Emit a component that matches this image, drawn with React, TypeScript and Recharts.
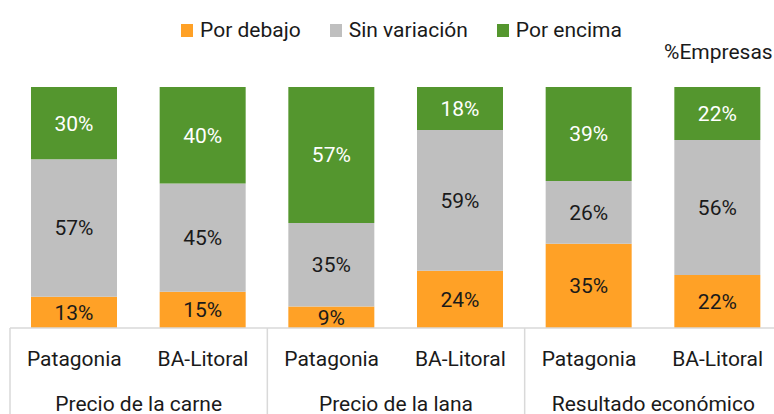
import { BarChart, Bar, XAxis, YAxis, Legend, LabelList } from "recharts";

const groups = ["Precio de la carne", "Precio de la lana", "Resultado económico"];
const regions = ["Patagonia", "BA-Litoral", "Patagonia", "BA-Litoral", "Patagonia", "BA-Litoral"];
const porDebajo = [13, 15, 9, 24, 35, 22];
const sinVariacion = [57, 45, 35, 59, 26, 56];
const porEncima = [30, 40, 57, 18, 39, 22];

const series = [
    { key: "debajo", name: "Por debajo", color: "#ffa126", text: "#1a1a1a" },
    { key: "sin", name: "Sin variación", color: "#bfbfbf", text: "#1a1a1a" },
    { key: "encima", name: "Por encima", color: "#54962e", text: "#ffffff" },
];

const data = regions.map((region, i) => ({
    name: groups[Math.floor(i / 2)] + " " + region,
    region,
    debajo: porDebajo[i],
    sin: sinVariacion[i],
    encima: porEncima[i],
}));

const CHART_W = 790;
const MARGIN_L = 10;
const MARGIN_R = 8;
const BAND = (CHART_W - MARGIN_L - MARGIN_R) / regions.length;
const FONT = "Roboto, 'Noto Sans', sans-serif";
const FS = 21;

function TwoLevelTick(props: any) {
    const { x, y, index } = props;
    return (
        <g>
            <text x={x} y={y + 30} textAnchor="middle" fill="#1a1a1a" fontSize={FS}>
                {regions[index]}
            </text>
            {index % 2 === 0 && (
                <g>
                    <line x1={x - BAND / 2} x2={x - BAND / 2} y1={y - 8} y2={y + 90} stroke="#d9d9d9" strokeWidth={1.5} />
                    <text x={x + BAND / 2} y={y + 75} textAnchor="middle" fill="#1a1a1a" fontSize={FS}>
                        {groups[index / 2]}
                    </text>
                </g>
            )}
            {index === regions.length - 1 && (
                <line x1={x + BAND / 2} x2={x + BAND / 2} y1={y - 8} y2={y + 90} stroke="#d9d9d9" strokeWidth={1.5} />
            )}
        </g>
    );
}

function LegendContent() {
    return (
        <div style={{ display: "flex", justifyContent: "center", fontSize: FS, lineHeight: "26px", color: "#1a1a1a" }}>
            {series.map((s) => (
                <div key={s.key} style={{ display: "flex", alignItems: "center", marginRight: 29 }}>
                    <span style={{ display: "inline-block", width: 12, height: 13, background: s.color, marginRight: 7 }} />
                    <span>{s.name}</span>
                </div>
            ))}
        </div>
    );
}

const pct = (v: any) => v + "%";

export default function App() {
    return (
        <div style={{ position: "absolute", left: 0, top: 0, width: 774, height: 414, overflow: "hidden", fontFamily: FONT }}>
            <BarChart
                width={CHART_W}
                height={414}
                data={data}
                stackOffset="expand"
                barSize={86}
                margin={{ top: 87, right: MARGIN_R, bottom: 0, left: MARGIN_L }}
            >
                <XAxis
                    dataKey="name"
                    height={86}
                    tickLine={false}
                    axisLine={{ stroke: "#d9d9d9", strokeWidth: 1.5 }}
                    tick={<TwoLevelTick />}
                    interval={0}
                />
                <YAxis hide domain={[0, 1]} />
                <Legend
                    verticalAlign="middle"
                    content={<LegendContent />}
                    wrapperStyle={{ top: 17, left: 29, width: 774 }}
                />
                {series.map((s) => (
                    <Bar key={s.key} dataKey={s.key} name={s.name} stackId="a" fill={s.color} isAnimationActive={false}>
                        <LabelList dataKey={s.key} position="center" formatter={pct} fill={s.text} fontSize={FS} />
                    </Bar>
                ))}
            </BarChart>
            <div style={{ position: "absolute", left: 664, top: 39, fontSize: FS, lineHeight: "26px", color: "#1a1a1a" }}>%Empresas</div>
        </div>
    );
}
